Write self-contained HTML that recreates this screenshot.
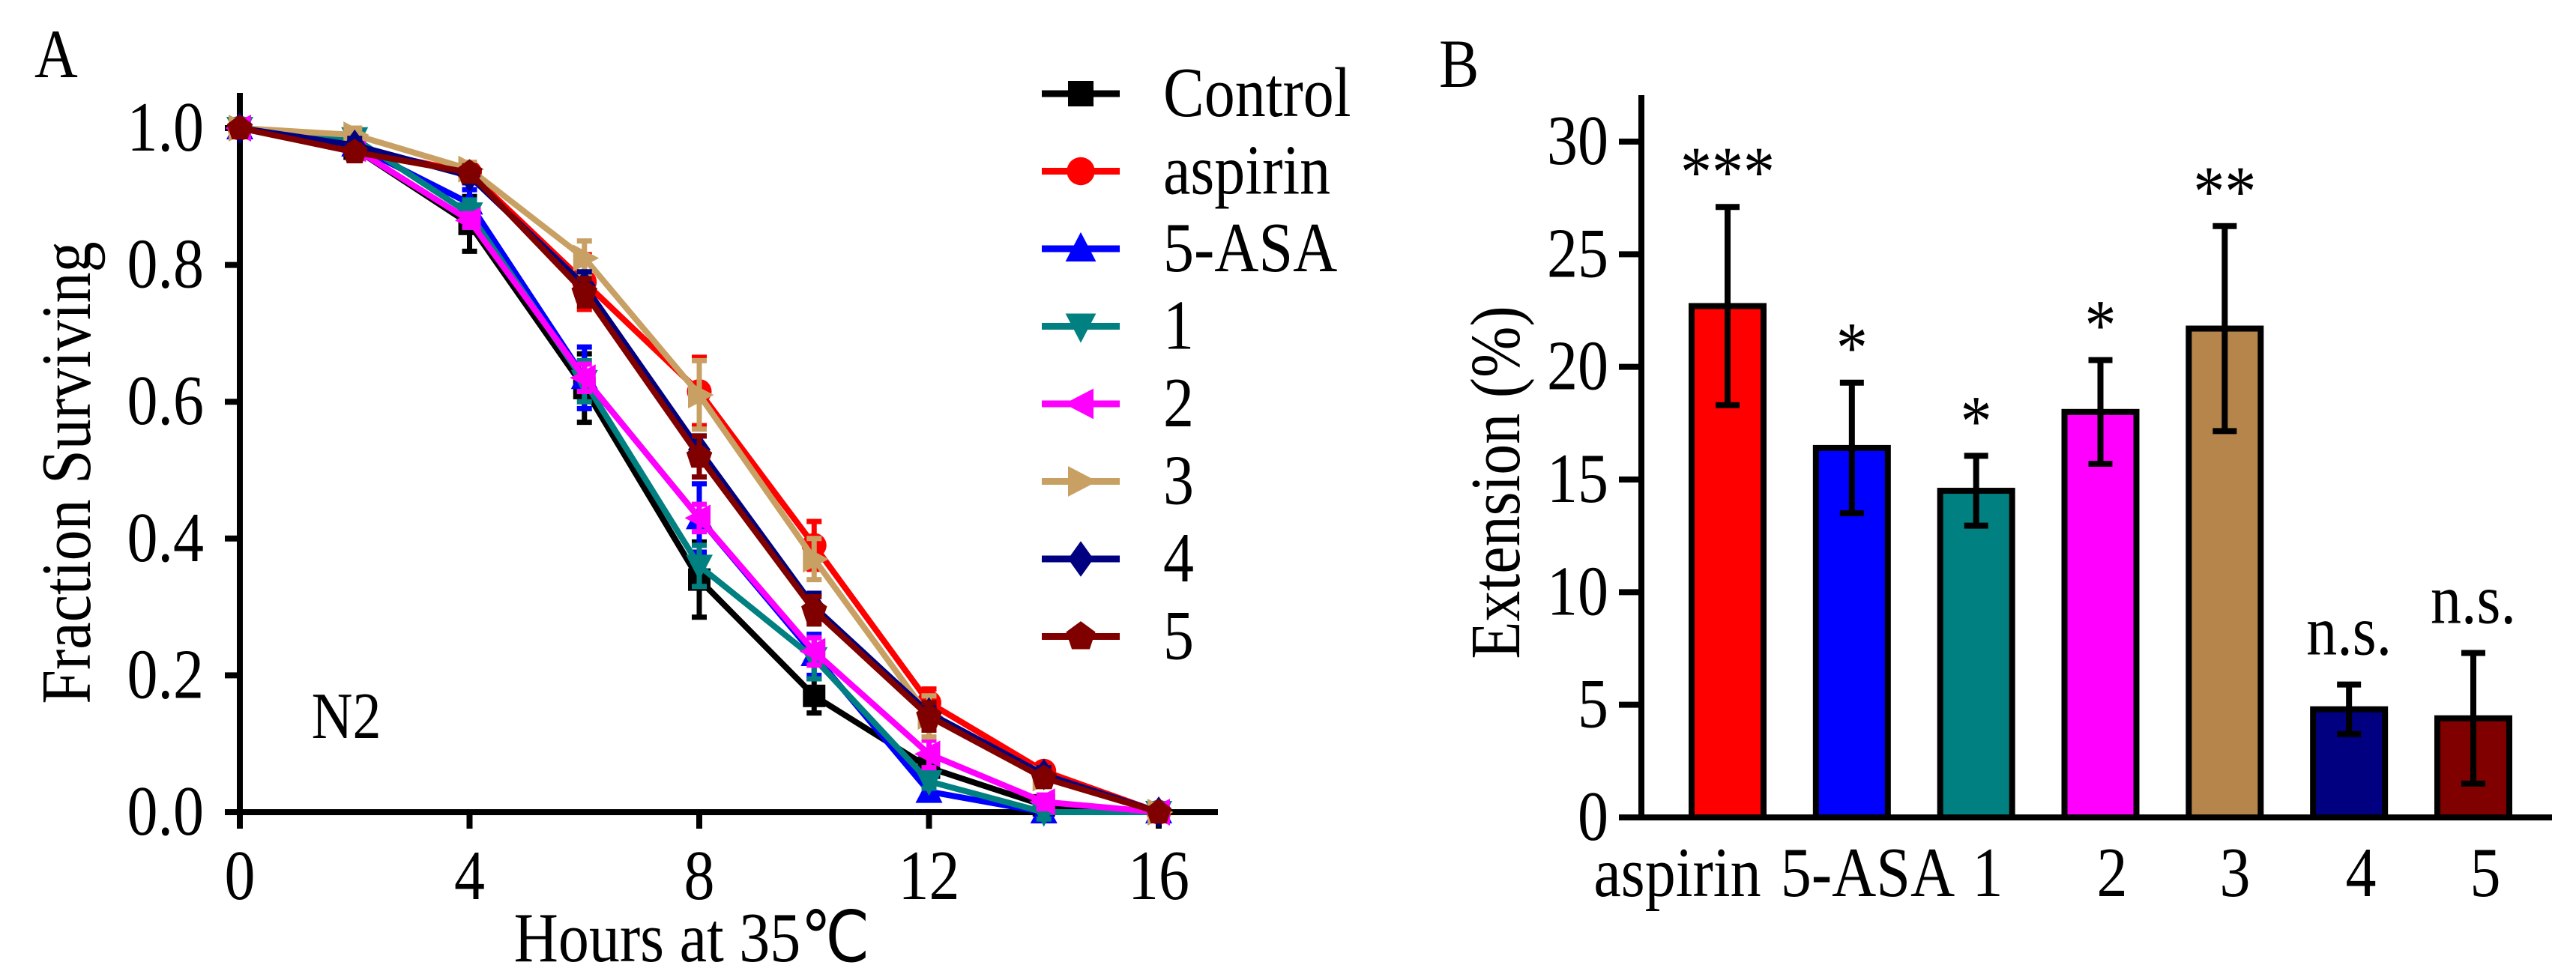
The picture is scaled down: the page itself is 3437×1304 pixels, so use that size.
<!DOCTYPE html>
<html><head><meta charset="utf-8"><style>
html,body{margin:0;padding:0;background:#fff}
svg{display:block;font-family:"Liberation Serif",serif}
</style></head><body>
<svg id="c" width="3437" height="1304" viewBox="0 0 3437 1304" xmlns="http://www.w3.org/2000/svg">
<text transform="translate(46,103) scale(1,1.15)" font-size="80">A</text>
<text transform="translate(1920,116) scale(1,1.15)" font-size="80">B</text>
<g id="pa"></g>
<g id="pb"></g>
</svg>
<script>
const hours = [0,2,4,6,8,10,12,14,16];
const seriesNames = ["Control","aspirin","5-ASA","1","2","3","4","5"];
const ctrlVals = [1,0.97,0.86,0.62,0.34,0.17,0.065,0.01,0];
const aspirinVals = [1,0.97,0.935,0.775,0.615,0.39,0.16,0.06,0];
const asaVals = [1,0.975,0.89,0.635,0.43,0.23,0.03,0,0];
const c1Vals = [1,0.985,0.875,0.63,0.36,0.225,0.045,0,0];
const c2Vals = [1,0.97,0.865,0.635,0.43,0.235,0.085,0.015,0];
const c3Vals = [1,0.99,0.94,0.81,0.61,0.37,0.14,0.05,0];
const c4Vals = [1,0.975,0.93,0.77,0.53,0.30,0.145,0.055,0];
const c5Vals = [1,0.965,0.935,0.76,0.52,0.295,0.14,0.05,0];
const ctrlErr = [0,0.01,0.04,0.05,0.055,0.025,0.01,0.01,0];
const aspirinErr = [0,0.01,0.01,0.04,0.05,0.035,0.02,0.01,0];
const asaErr = [0,0.01,0.02,0.045,0.05,0.03,0.01,0,0];
const c1Err = [0,0.01,0.02,0.03,0.03,0.03,0.01,0.01,0];
const c2Err = [0,0.01,0.01,0.02,0.02,0.02,0.02,0.01,0];
const c3Err = [0,0.01,0.01,0.025,0.05,0.03,0.03,0.01,0];
const c4Err = [0,0.01,0.01,0.02,0.02,0.02,0.01,0.01,0];
const c5Err = [0,0.01,0.01,0.02,0.03,0.02,0.02,0.01,0];
const xTicksA = [0,4,8,12,16];
const yTicksA = [0,0.2,0.4,0.6,0.8,1.0];
const barCats = ["aspirin","5-ASA","1","2","3","4","5"];
const barVals = [22.7,16.4,14.5,18.0,21.7,4.8,4.4];
const barErr = [4.4,2.9,1.55,2.3,4.55,1.1,2.9];
const barSig = ["***","*","*","*","**","n.s.","n.s."];
const yTicksB = [0,5,10,15,20,25,30];

const NS="http://www.w3.org/2000/svg";
function mk(p,t,a,txt){const e=document.createElementNS(NS,t);for(const k in a)e.setAttribute(k,a[k]);if(txt!==undefined)e.textContent=txt;p.appendChild(e);return e;}
function tx(p,x,y,size,anchor,str,rot){
 const tr=`translate(${x},${y})`+(rot?` rotate(${rot})`:'')+' scale(1,1.15)';
 return mk(p,'text',{x:0,y:0,'font-size':size,'text-anchor':anchor,transform:tr},str);
}
const pa=document.getElementById('pa'), pb=document.getElementById('pb');
const xA=v=>320+v*(1546-320)/16, yA=v=>1084-v*(1084-171);
let e;
e=mk(pa,'line',{x1:320,y1:124,x2:320,y2:1088,stroke:'#000','stroke-width':8});


e=mk(pa,'line',{x1:316,y1:1084,x2:1625,y2:1084,stroke:'#000','stroke-width':8});


yTicksA.forEach(v=>{mk(pa,'line',{x1:300,x2:320,y1:yA(v),y2:yA(v),stroke:'#000','stroke-width':8});
 e=tx(pa,272,yA(v)+30,82,'end',v.toFixed(1));
 
 });
xTicksA.forEach(v=>{mk(pa,'line',{x1:xA(v),x2:xA(v),y1:1084,y2:1106,stroke:'#000','stroke-width':8});
 e=tx(pa,xA(v),1200,82,'middle',String(v));
 
 });
e=tx(pa,923,1283,82,'middle','Hours at 35℃');


e=tx(pa,120,631,82,'middle','Fraction Surviving',-90);


e=tx(pa,462,985,76,'middle','N2');



const allVals=[ctrlVals,aspirinVals,asaVals,c1Vals,c2Vals,c3Vals,c4Vals,c5Vals];
const allErr=[ctrlErr,aspirinErr,asaErr,c1Err,c2Err,c3Err,c4Err,c5Err];
const cols=['#000','#ff0000','#0000ff','#008080','#ff00ff','#c8a064','#000080','#800000'];
const marks=['sq','ci','tu','td','tl','tr','di','pe'];
function marker(g,t,x,y,c,s){
 let pts;
 if(t==='sq') return mk(g,'rect',{x:x-s,y:y-s,width:2*s,height:2*s,fill:c});
 if(t==='ci') return mk(g,'circle',{cx:x,cy:y,r:s*1.1,fill:c});
 if(t==='tu') pts=[[x,y-s*1.3],[x+s*1.2,y+s],[x-s*1.2,y+s]];
 if(t==='td') pts=[[x,y+s*1.3],[x+s*1.2,y-s],[x-s*1.2,y-s]];
 if(t==='tl') pts=[[x-s*1.3,y],[x+s,y-s*1.2],[x+s,y+s*1.2]];
 if(t==='tr') pts=[[x+s*1.3,y],[x-s,y-s*1.2],[x-s,y+s*1.2]];
 if(t==='di') pts=[[x,y-s*1.4],[x+s,y],[x,y+s*1.4],[x-s,y]];
 if(t==='pe') pts=[[x,y-s*1.2],[x+s*1.15,y-s*0.35],[x+s*0.7,y+s],[x-s*0.7,y+s],[x-s*1.15,y-s*0.35]];
 return mk(g,'polygon',{points:pts.map(p=>p.join(',')).join(' '),fill:c});
}
allVals.forEach((vals,si)=>{
 const g=mk(pa,'g',{});
 
 
 vals.forEach((v,i)=>{const er=allErr[si][i];if(er>0){const x=xA(hours[i]);
  mk(g,'path',{d:`M${x},${yA(v-er)}V${yA(v+er)}M${x-10},${yA(v-er)}H${x+10}M${x-10},${yA(v+er)}H${x+10}`,stroke:cols[si],'stroke-width':7,fill:'none'});}});
 mk(g,'polyline',{points:vals.map((v,i)=>xA(hours[i])+','+yA(v)).join(' '),stroke:cols[si],'stroke-width':8,fill:'none','stroke-linejoin':'round'});
 vals.forEach((v,i)=>marker(g,marks[si],xA(hours[i]),yA(v),cols[si],15));
 const ly=125+si*103.5;
 const lg=mk(pa,'g',{});
 
 
 mk(lg,'line',{x1:1390,x2:1494,y1:ly,y2:ly,stroke:cols[si],'stroke-width':9});
 marker(lg,marks[si],1442,ly,cols[si],17);
 tx(lg,1552,ly+30,82,'start',seriesNames[si]);
});

// Panel B
const yB=v=>1091-v*(1091-189)/30;
const xB=i=>2305+i*((3300-2305)/6);
e=mk(pb,'line',{x1:2190,y1:127,x2:2190,y2:1095,stroke:'#000','stroke-width':8});


e=mk(pb,'line',{x1:2160,y1:1091,x2:3405,y2:1091,stroke:'#000','stroke-width':8});


yTicksB.forEach(v=>{mk(pb,'line',{x1:2160,x2:2190,y1:yB(v),y2:yB(v),stroke:'#000','stroke-width':8});
 e=tx(pb,2146,yB(v)+30,82,'end',String(v));
 
 });
e=tx(pb,2027,644,82,'middle','Extension (%)',-90);


const bcols=['#ff0000','#0000ff','#008080','#ff00ff','#b5854b','#000080','#800000'];
const labX=[2238,2492,2652,2818,2982,3150,3316];
barVals.forEach((v,i)=>{
 const cx=xB(i), w=96;
 e=mk(pb,'rect',{x:cx-w/2,y:yB(v),width:w,height:yB(0)-yB(v),fill:bcols[i],stroke:'#000','stroke-width':8});
 
 
 const lo=yB(v-barErr[i]), hi=yB(v+barErr[i]);
 e=mk(pb,'path',{d:`M${cx},${lo}V${hi}M${cx-16},${lo}H${cx+16}M${cx-16},${hi}H${cx+16}`,stroke:'#000','stroke-width':8,fill:'none'});
 
 
 const ns=barSig[i]==='n.s.';
 e=tx(pb,cx,ns?hi-40:hi-14,ns?82:84,'middle',barSig[i]);
 
 
 e=tx(pb,labX[i],1196,82,'middle',barCats[i]);
 
 
});
</script>
</body></html>
